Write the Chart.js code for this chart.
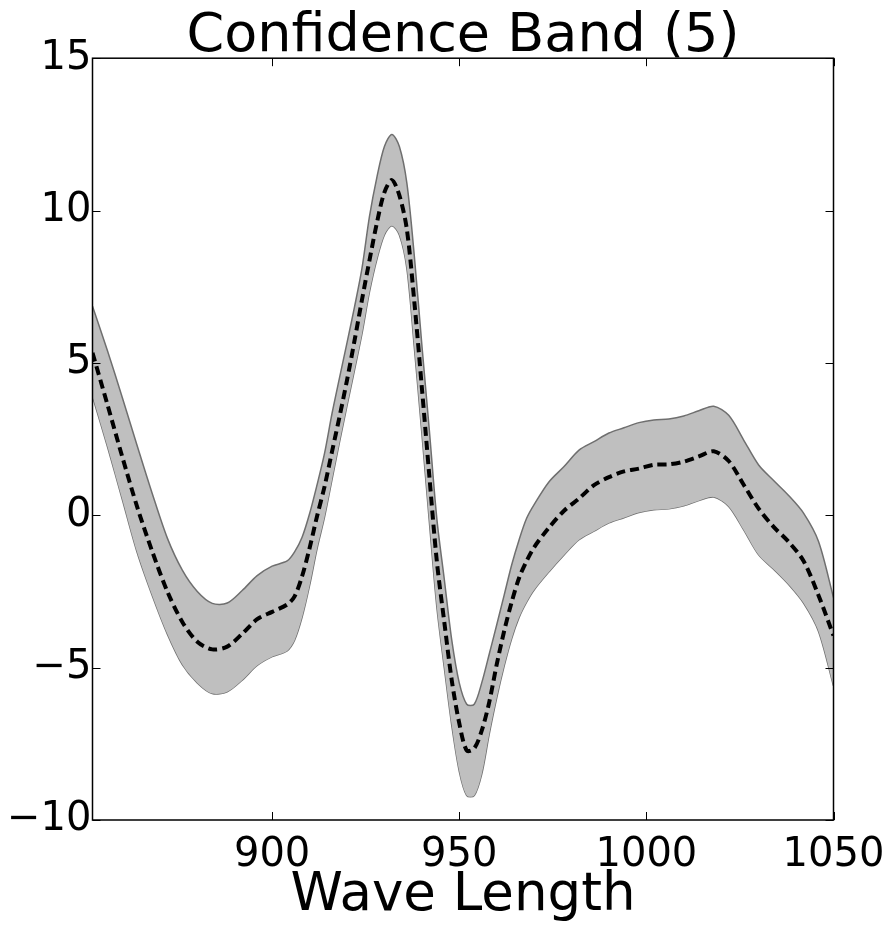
<!DOCTYPE html>
<html lang="en">
  <head>
    <meta charset="UTF-8" />
    <title>Confidence Band (5)</title>
    <script src="https://cdn.jsdelivr.net/npm/chart.js@4"></script>
    <style>
      body { margin: 0; background: #fff; }
    </style>
  </head>

  <body>
    <canvas id="myChart" width="891" height="934"></canvas>
  </body>

  <script>
    // wave length grid (nm)
    const waveLengths = [
      852, 856, 860, 864, 868, 872, 876, 880, 884, 888, 892, 896, 900,
      904, 906, 908, 910, 912, 914, 916, 918, 920, 922, 924, 926, 928, 930,
      932, 934, 936, 938, 940, 942, 944, 946, 948, 950, 952, 954, 956, 958,
      960, 962, 964, 966, 968, 970,
      974, 978, 982, 986, 990, 994, 998, 1002, 1006, 1010, 1014, 1018,
      1022, 1026, 1030, 1034, 1038, 1042, 1046, 1050
    ];

    // dashed centre line
    const meanValues = [
      5.33, 3.63, 1.90, 0.25, -1.20, -2.50, -3.50, -4.15, -4.40, -4.31, -3.89, -3.41, -3.17,
      -2.93, -2.66, -2.00, -1.08, -0.03, 0.94, 2.09, 3.23, 4.43, 5.72, 7.07, 8.36, 9.60, 10.60,
      11.00, 10.50, 9.38, 7.00, 4.20, 1.30, -1.50, -3.50, -5.42, -6.82, -7.72, -7.65, -7.07, -6.14,
      -4.90, -3.80, -2.85, -2.05, -1.50, -1.05,
      -0.40, 0.15, 0.55, 0.99, 1.25, 1.44, 1.53, 1.66, 1.67, 1.76, 1.93, 2.10,
      1.78, 1.00, 0.22, -0.38, -0.87, -1.50, -2.63, -3.95
    ];

    // band upper edge
    const upperValues = [
      6.86, 5.40, 3.85, 2.26, 0.70, -0.75, -1.80, -2.50, -2.89, -2.88, -2.47, -1.98, -1.67,
      -1.50, -1.20, -0.72, 0.05, 1.00, 2.03, 3.34, 4.51, 5.66, 6.83, 8.10, 9.80, 11.10, 12.10,
      12.50, 12.10, 10.90, 8.50, 5.60, 2.80, -0.10, -2.10, -4.10, -5.50, -6.20, -6.20, -5.50, -4.56,
      -3.60, -2.62, -1.63, -0.80, -0.10, 0.35,
      1.10, 1.60, 2.14, 2.42, 2.70, 2.87, 3.04, 3.13, 3.16, 3.26, 3.43, 3.58,
      3.28, 2.47, 1.65, 1.14, 0.65, 0.07, -0.86, -2.70
    ];

    // band lower edge
    const lowerValues = [
      3.90, 2.25, 0.50, -1.25, -2.65, -3.90, -4.90, -5.50, -5.85, -5.79, -5.41, -4.93, -4.64,
      -4.45, -4.10, -3.35, -2.31, -1.10, -0.06, 1.17, 2.40, 3.59, 4.76, 5.95, 7.32, 8.40, 9.20,
      9.50, 9.20, 8.10, 5.50, 2.70, -0.20, -3.00, -5.00, -6.90, -8.40, -9.20, -9.20, -8.50, -7.19,
      -6.00, -4.95, -4.05, -3.35, -2.85, -2.45,
      -1.85, -1.30, -0.80, -0.52, -0.25, -0.08, 0.09, 0.18, 0.21, 0.31, 0.48, 0.60,
      0.29, -0.48, -1.30, -1.77, -2.27, -2.88, -3.81, -5.60
    ];

    // tick labels
    const xTicks = [900, 950, 1000, 1050];
    const yTicks = [-10, -5, 0, 5, 10, 15];

    const toPoints = (vals) => vals.map((v, i) => ({ x: waveLengths[i], y: v }));

    const FONT = '"DejaVu Sans", sans-serif';

    // 边框 + 向内刻度 (matplotlib classic 风格)
    const frameTicks = {
      id: 'frameTicks',
      afterDatasetsDraw(chart) {
        const { ctx, chartArea: a, scales: { x, y } } = chart;
        const len = 8;
        ctx.save();
        ctx.strokeStyle = '#000';
        ctx.lineWidth = 1;
        ctx.beginPath();
        xTicks.forEach((t) => {
          const px = Math.round(x.getPixelForValue(t)) + 0.5;
          ctx.moveTo(px, a.bottom); ctx.lineTo(px, a.bottom - len);
          ctx.moveTo(px, a.top); ctx.lineTo(px, a.top + len);
        });
        yTicks.forEach((t) => {
          const py = Math.round(y.getPixelForValue(t)) + 0.5;
          ctx.moveTo(a.left, py); ctx.lineTo(a.left + len, py);
          ctx.moveTo(a.right, py); ctx.lineTo(a.right - len, py);
        });
        ctx.stroke();
        ctx.lineWidth = 1.5;
        ctx.strokeRect(a.left, a.top, a.right - a.left, a.bottom - a.top);
        ctx.restore();
      }
    };

    const data = {
      datasets: [
        {
          label: 'upper',
          data: toPoints(upperValues),
          borderColor: '#6f6f6f',
          borderWidth: 1.5,
          backgroundColor: '#bfbfbf',
          fill: '+1',
          pointRadius: 0,
          tension: 0.3,
          order: 1
        },
        {
          label: 'lower',
          data: toPoints(lowerValues),
          borderColor: '#6f6f6f',
          borderWidth: 1.5,
          fill: false,
          pointRadius: 0,
          tension: 0.3,
          order: 1
        },
        {
          label: 'mean',
          data: toPoints(meanValues),
          borderColor: '#000',
          borderWidth: 4,
          borderDash: [9, 5],
          fill: false,
          pointRadius: 0,
          tension: 0.3,
          order: 0
        }
      ]
    };

    const config = {
      type: 'line',
      data: data,
      options: {
        responsive: false,
        animation: false,
        layout: { padding: { left: 0, right: 57.5, top: 0, bottom: 0 } },
        scales: {
          x: {
            type: 'linear',
            min: 852,
            max: 1050,
            afterBuildTicks: (s) => { s.ticks = xTicks.map((v) => ({ value: v })); },
            afterFit: (s) => {
              s.height = 114;
              // 不让刻度标签撑开右侧留白
              s.paddingLeft = 0;
              s.paddingRight = 0;
            },
            grid: { display: false, drawTicks: false },
            border: { display: false },
            ticks: {
              color: '#000',
              padding: 12,
              maxRotation: 0,
              font: { family: FONT, size: 40 },
              callback: (v) => String(v)
            },
            title: {
              display: true,
              text: 'Wave Length',
              color: '#000',
              padding: { top: 0, bottom: 6 },
              font: { family: FONT, size: 53 }
            }
          },
          y: {
            min: -10,
            max: 15,
            afterBuildTicks: (s) => { s.ticks = yTicks.map((v) => ({ value: v })); },
            afterFit: (s) => { s.width = 92.5; },
            grid: { display: false, drawTicks: false },
            border: { display: false },
            ticks: {
              color: '#000',
              padding: 1,
              font: { family: FONT, size: 40 },
              callback: (v) => String(v).replace('-', '\u2212')
            }
          }
        },
        plugins: {
          legend: { display: false },
          tooltip: { enabled: false },
          title: {
            display: true,
            fullSize: false, // 标题居中于绘图区上方
            text: 'Confidence Band (5)',
            color: '#000',
            padding: { top: 15, bottom: 0 },
            font: { family: FONT, size: 54, weight: 'normal', lineHeight: 0.8 }
          }
        }
      },
      plugins: [frameTicks]
    };

    const myChart = new Chart(document.getElementById('myChart'), config);
  </script>
</html>
